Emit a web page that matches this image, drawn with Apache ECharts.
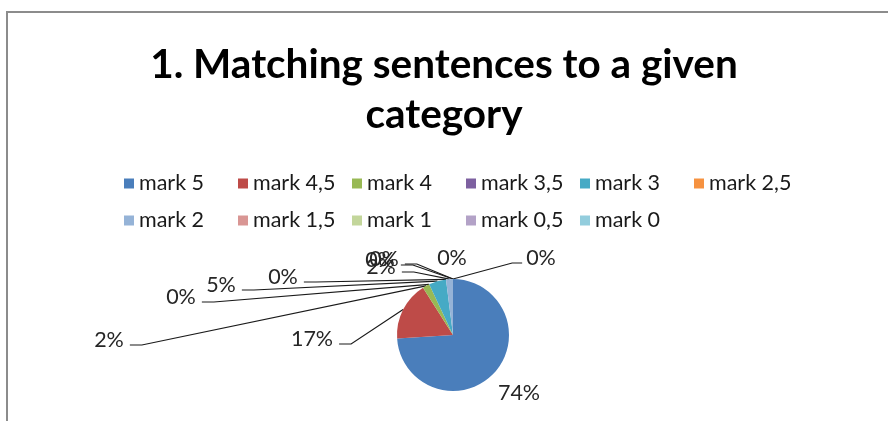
<!DOCTYPE html>
<html>
<head>
<meta charset="utf-8">
<script src="https://cdn.jsdelivr.net/npm/echarts@6/dist/echarts.min.js"></script>
<style>
html,body{margin:0;padding:0;background:#fff;}
#c{width:888px;height:421px;}
</style>
</head>
<body>
<div id="c"></div>
<script>
const titleText = '1. Matching sentences to a given\ncategory';
const categories = ['mark 5','mark 4,5','mark 4','mark 3,5','mark 3','mark 2,5','mark 2','mark 1,5','mark 1','mark 0,5','mark 0'];
const percents = [74, 17, 2, 0, 5, 0, 2, 0, 0, 0, 0];
const colors = ['#4A7EBB','#BE4B48','#98B954','#7D60A0','#46AAC5','#F69240','#95B3D7','#D99694','#C3D69B','#B3A2C7','#93CDDD'];

// Label text centres (Excel-like manual label placement) and leader-line side
const labelCentres = [[519,393],[312,339],[109,340],[181,297],[221,285],[283,277],[381,267],[380,260],[384,259],[452,258],[541,258]];
const labelSides = ['none','left','left','left','left','left','left','left','left','none','right'];

const chart = echarts.init(document.getElementById('c'));
chart.setOption({
  animation: false,
  color: colors,
  graphic: [{
    type: 'rect',
    shape: { x: 7, y: 12, width: 1000, height: 1000 },
    style: { fill: 'none', stroke: '#8c8c8c', lineWidth: 2 },
    silent: true
  }],
  title: {
    text: titleText,
    left: 'center',
    top: 35,
    textStyle: { fontFamily: 'Lato', fontWeight: 'bold', fontSize: 40.5, lineHeight: 50, color: '#000' }
  },
  legend: {
    data: categories,
    left: 119,
    top: 165,
    width: 700,
    itemWidth: 10,
    itemHeight: 10,
    itemGap: 10,
    icon: 'rect',
    textStyle: { fontFamily: 'Lato', fontSize: 21.5, color: '#1a1a1a', width: 89, lineHeight: 27 }
  },
  series: [{
    type: 'pie',
    center: [453, 335],
    radius: 56,
    startAngle: 90,
    clockwise: true,
    avoidLabelOverlap: false,
    data: categories.map((n, i) => ({ name: n, value: percents[i] })),
    label: {
      show: true,
      position: 'outside',
      formatter: '{c}%',
      fontFamily: 'Lato',
      fontSize: 21.5,
      color: '#262626'
    },
    labelLine: { show: true, length: 10, length2: 10, lineStyle: { color: '#1a1a1a', width: 1.2 } },
    labelLayout: function (params) {
      const i = params.dataIndex;
      const c = labelCentres[i];
      const w = params.labelRect.width;
      const p0 = (params.labelLinePoints && params.labelLinePoints[0]) || [453, 279];
      let pts;
      const ly = c[1] + 5;
      if (labelSides[i] === 'left') {
        const sx = c[0] + w / 2 + 6;
        pts = [[sx, ly], [sx + 12, ly], p0];
      } else if (labelSides[i] === 'right') {
        const sx = c[0] - w / 2 - 4;
        pts = [[sx, ly], [sx - 10, ly], p0];
      } else {
        pts = [p0, p0, p0];
      }
      return {
        x: c[0],
        y: c[1],
        align: 'center',
        verticalAlign: 'middle',
        labelLinePoints: pts
      };
    },
    itemStyle: { borderWidth: 0 }
  }]
});
</script>
</body>
</html>
